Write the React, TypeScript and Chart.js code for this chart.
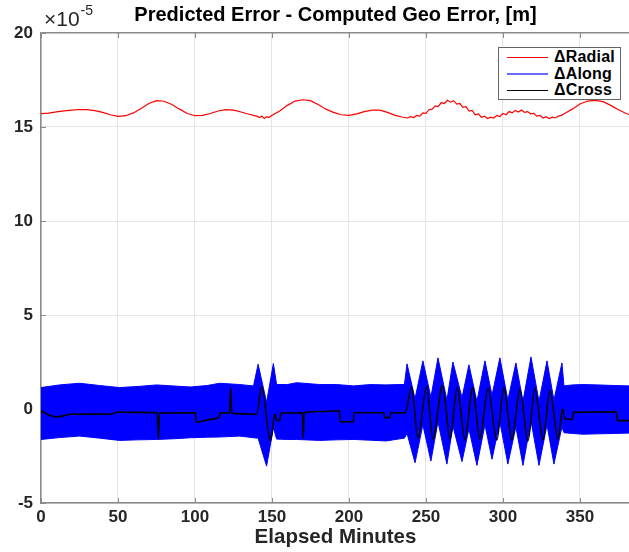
import React, { useEffect, useRef } from 'react';
import { Chart, registerables } from 'chart.js';

Chart.register(...registerables);

const TITLE = 'Predicted Error - Computed Geo Error, [m]';
const X_LABEL = 'Elapsed Minutes';
const X_TICKS = [0, 50, 100, 150, 200, 250, 300, 350];
const Y_TICKS = [-5, 0, 5, 10, 15, 20];
const X_MIN = 0;
const X_MAX = 382.5;
const Y_MIN = -5;
const Y_MAX = 20;

const LEGEND_LABELS = ['\u0394Radial', '\u0394Along', '\u0394Cross'];
const SERIES_COLORS = ['#ff0000', '#0000ff', '#000000'];

// ΔRadial (units of 1e-5 m)
const radialT = [0, 5, 10, 15, 20, 25, 30, 35, 40, 45, 50, 55, 60, 65, 70, 75, 80, 85, 90, 95, 100, 105, 110, 115, 120, 125, 130, 135, 140, 142, 143.5, 145, 146.5, 148, 150, 155, 160, 165, 170, 175, 180, 185, 190, 195, 200, 205, 210, 215, 220, 225, 230, 235, 238, 240, 242, 244, 246, 248, 250, 252, 254, 256, 258, 260, 262, 264, 266, 268, 270, 272, 274, 276, 278, 280, 282, 284, 286, 288, 290, 292, 294, 296, 298, 300, 302, 304, 306, 308, 310, 312, 314, 316, 318, 320, 322, 324, 326, 328, 330, 332, 334, 336, 338, 340, 345, 350, 355, 360, 365, 370, 375, 380, 382.5];
const radialV = [15.71, 15.74, 15.8, 15.86, 15.9, 15.93, 15.92, 15.87, 15.78, 15.65, 15.57, 15.6, 15.75, 15.98, 16.25, 16.4, 16.37, 16.2, 15.95, 15.72, 15.6, 15.62, 15.72, 15.85, 15.92, 15.9, 15.8, 15.68, 15.58, 15.5, 15.58, 15.45, 15.55, 15.5, 15.62, 15.85, 16.15, 16.38, 16.45, 16.4, 16.2, 15.95, 15.78, 15.65, 15.62, 15.7, 15.82, 15.9, 15.9, 15.78, 15.62, 15.52, 15.48, 15.55, 15.5, 15.62, 15.58, 15.75, 15.72, 15.92, 15.95, 16.12, 16.08, 16.3, 16.25, 16.42, 16.32, 16.4, 16.22, 16.25, 16.05, 16.08, 15.85, 15.88, 15.65, 15.7, 15.52, 15.58, 15.45, 15.52, 15.48, 15.62, 15.55, 15.72, 15.65, 15.82, 15.75, 15.88, 15.8, 15.9, 15.78, 15.82, 15.7, 15.72, 15.58, 15.62, 15.48, 15.55, 15.45, 15.52, 15.48, 15.58, 15.62, 15.72, 15.95, 16.22, 16.38, 16.42, 16.35, 16.15, 15.92, 15.72, 15.65];

// ΔAlong: upper and lower envelope of the fast oscillation
const alongT = [0, 12, 25, 38, 51, 63, 75, 87, 97, 108, 116, 129, 138, 141, 146.5, 150.9, 153, 160, 166, 181, 192, 203, 214, 224, 232, 236, 237.7, 242.9, 248, 253.2, 257.8, 263.6, 267.5, 273.4, 277.9, 283.1, 288.3, 292.9, 298, 303.2, 308.4, 313, 318.2, 323.4, 328.6, 333.1, 338.3, 339.6, 345, 352, 362, 372, 382.5];
const alongHi = [1.14, 1.28, 1.37, 1.25, 1.14, 1.2, 1.28, 1.22, 1.17, 1.25, 1.37, 1.3, 1.23, 2.38, 0.36, 2.42, 1.3, 1.3, 1.4, 1.3, 1.3, 1.23, 1.3, 1.28, 1.3, 1.3, 2.4, 0.54, 2.56, 0.63, 2.72, 0.47, 2.5, 0.6, 2.35, 0.4, 2.56, 0.73, 2.72, 0.47, 2.45, 0.4, 2.77, 0.4, 2.56, 0.47, 2.45, 1.23, 1.28, 1.3, 1.28, 1.25, 1.23];
const alongLo = [-1.62, -1.52, -1.44, -1.55, -1.67, -1.64, -1.62, -1.58, -1.53, -1.5, -1.49, -1.44, -1.53, -1.55, -3.04, -1.0, -1.6, -1.62, -1.62, -1.67, -1.64, -1.62, -1.66, -1.7, -1.6, -1.55, -1.3, -2.86, -0.84, -2.77, -0.68, -2.93, -0.9, -2.8, -1.05, -3.0, -0.84, -2.67, -0.68, -2.93, -0.95, -3.0, -0.63, -3.0, -0.84, -2.93, -0.95, -1.26, -1.3, -1.34, -1.32, -1.3, -1.28];

// ΔCross
const crossT = [0, 5, 10, 14, 19, 30, 45, 50, 60, 75.5, 76.2, 76.9, 100.3, 100.8, 105, 110, 115.5, 116.3, 122.5, 123.2, 123.9, 140, 143.3, 149, 152, 153, 155, 156, 169.8, 170.3, 170.8, 185, 193.8, 194.4, 202.8, 203.4, 222.5, 223.2, 226.5, 227.2, 236.5, 240.7, 244.8, 250.5, 254.5, 260.8, 265.6, 270.3, 275.3, 280.3, 285, 290.3, 296, 300.6, 305.8, 311, 316.2, 320.8, 326, 330.5, 335.7, 338.8, 340, 345, 345.8, 373.5, 374.3, 382.5];
const crossV = [-0.1, -0.3, -0.42, -0.38, -0.28, -0.27, -0.28, -0.16, -0.18, -0.2, -1.6, -0.22, -0.2, -0.68, -0.65, -0.55, -0.45, -0.22, -0.2, 1.1, -0.22, -0.28, 1.2, -1.7, -0.27, -0.6, -0.62, -0.22, -0.2, -1.56, -0.2, -0.12, -0.1, -0.68, -0.68, -0.2, -0.2, -0.46, -0.46, -0.2, -0.2, 1.15, -1.55, 1.2, -1.6, 1.25, -1.6, 1.15, -1.65, 1.15, -1.6, 1.1, -1.65, 1.15, -1.65, 1.05, -1.7, 1.1, -1.65, 1.0, -1.6, 0.0, -0.5, -0.55, -0.18, -0.15, -0.62, -0.62];

const FONT = "'Liberation Sans', Arial, Helvetica, sans-serif";
const AXIS_COLOR = '#8a8a8a';
const GRID_COLOR = '#e4e4e4';
const TEXT_COLOR = '#262626';

const pts = (t: number[], v: number[]) => t.map((x, i) => ({ x, y: v[i] }));

const decorPlugin = {
  id: 'decor',
  beforeDatasetsDraw(chart: any) {
    const { ctx, chartArea, scales } = chart;
    const { left, top, bottom } = chartArea;
    ctx.save();
    ctx.strokeStyle = AXIS_COLOR;
    ctx.lineWidth = 1;
    ctx.beginPath();
    X_TICKS.forEach((v) => {
      const px = Math.round(scales.x.getPixelForValue(v)) + 0.5;
      ctx.moveTo(px, bottom);
      ctx.lineTo(px, bottom - 5);
      ctx.moveTo(px, top);
      ctx.lineTo(px, top + 5);
    });
    Y_TICKS.forEach((v) => {
      const py = Math.round(scales.y.getPixelForValue(v)) + 0.5;
      ctx.moveTo(left, py);
      ctx.lineTo(left + 5, py);
    });
    ctx.stroke();
    ctx.restore();
  },
  afterDraw(chart: any) {
    const { ctx, chartArea } = chart;
    ctx.save();
    // title centred over the axes
    ctx.fillStyle = '#000';
    ctx.textBaseline = 'middle';
    ctx.textAlign = 'center';
    ctx.font = `bold 20px ${FONT}`;
    ctx.fillText(TITLE, (chartArea.left + chartArea.right) / 2, 15);
    // exponent label
    ctx.fillStyle = TEXT_COLOR;
    ctx.textAlign = 'left';
    ctx.font = `21px ${FONT}`;
    ctx.fillText('\u00d710', 44, 20);
    const w = ctx.measureText('\u00d710').width;
    ctx.font = `14px ${FONT}`;
    ctx.fillText('-5', 44 + w + 1, 11);
    ctx.restore();
  },
};

export default function App() {
  const ref = useRef<HTMLCanvasElement | null>(null);

  useEffect(() => {
    if (!ref.current) return;
    const chart = new Chart(ref.current, {
      type: 'line',
      data: {
        datasets: [
          {
            label: LEGEND_LABELS[0],
            data: pts(radialT, radialV),
            borderColor: SERIES_COLORS[0],
            borderWidth: 1.2,
            pointRadius: 0,
            fill: false,
            order: 1,
          },
          {
            label: LEGEND_LABELS[1],
            data: pts(alongT, alongHi),
            borderColor: SERIES_COLORS[1],
            backgroundColor: SERIES_COLORS[1],
            borderWidth: 1,
            pointRadius: 0,
            fill: '+1',
            order: 2,
          },
          {
            label: LEGEND_LABELS[1] + ' (lower)',
            data: pts(alongT, alongLo),
            borderColor: SERIES_COLORS[1],
            borderWidth: 1,
            pointRadius: 0,
            fill: false,
            order: 3,
          },
          {
            label: LEGEND_LABELS[2],
            data: pts(crossT, crossV),
            borderColor: SERIES_COLORS[2],
            borderWidth: 1.6,
            pointRadius: 0,
            fill: false,
            cubicInterpolationMode: 'monotone',
            order: 0,
          },
        ],
      },
      options: {
        animation: false,
        responsive: false,
        devicePixelRatio: 1,
        layout: { padding: { left: 0, right: 40, top: 33, bottom: 0 } },
        plugins: {
          legend: { display: false },
          tooltip: { enabled: false },
          title: { display: false },
        },
        scales: {
          x: {
            type: 'linear',
            min: X_MIN,
            max: X_MAX,
            afterFit: (s: any) => { s.height = 49; },
            afterBuildTicks: (s: any) => { s.ticks = X_TICKS.map((v) => ({ value: v })); },
            ticks: {
              color: TEXT_COLOR,
              font: { family: FONT, size: 17, weight: 'bold' },
              padding: 4,
              maxRotation: 0,
              includeBounds: false,
            },
            grid: { color: GRID_COLOR, drawTicks: false, lineWidth: 1 },
            border: { color: AXIS_COLOR, width: 1.5 },
            title: {
              display: true,
              text: X_LABEL,
              color: TEXT_COLOR,
              font: { family: FONT, size: 20.5, weight: 'bold' },
              padding: { top: 0, bottom: 2 },
            },
          },
          y: {
            type: 'linear',
            min: Y_MIN,
            max: Y_MAX,
            afterFit: (s: any) => { s.width = 41; },
            afterBuildTicks: (s: any) => { s.ticks = Y_TICKS.map((v) => ({ value: v })); },
            ticks: {
              color: TEXT_COLOR,
              font: { family: FONT, size: 17, weight: 'bold' },
              padding: 8,
            },
            grid: {
              color: (c: any) => (c.tick && c.tick.value === Y_MAX ? AXIS_COLOR : GRID_COLOR),
              lineWidth: (c: any) => (c.tick && c.tick.value === Y_MAX ? 1.5 : 1),
              drawTicks: false,
            },
            border: { color: AXIS_COLOR, width: 1.5 },
          },
        },
      },
      plugins: [decorPlugin],
    } as any);
    return () => chart.destroy();
  }, []);

  const legendItems = LEGEND_LABELS.map((label, i) => ({ label, color: SERIES_COLORS[i] }));

  return (
    <div style={{ position: 'fixed', left: 0, top: 0, width: 629, height: 552, overflow: 'hidden', background: '#fff' }}>
      <canvas ref={ref} width={670} height={552} style={{ display: 'block' }} />
      <div
        style={{
          position: 'absolute',
          left: 498,
          top: 47,
          width: 121,
          height: 51,
          border: '1px solid #666',
          background: '#fff',
          fontFamily: FONT,
        }}
      >
        {legendItems.map((it, i) => (
          <div
            key={it.label}
            style={{ position: 'absolute', left: 0, top: 1 + i * 16.5, height: 16.5, width: 121, display: 'flex', alignItems: 'center' }}
          >
            <div
              style={{
                marginLeft: 8,
                width: 41,
                height: i === 1 ? 2 : 1,
                background: i === 1 ? '#6a6aff' : it.color,
              }}
            />
            <span style={{ marginLeft: 6, fontSize: 16, fontWeight: 'bold', color: '#000', letterSpacing: 0.2, lineHeight: '16px' }}>
              {it.label}
            </span>
          </div>
        ))}
      </div>
    </div>
  );
}
